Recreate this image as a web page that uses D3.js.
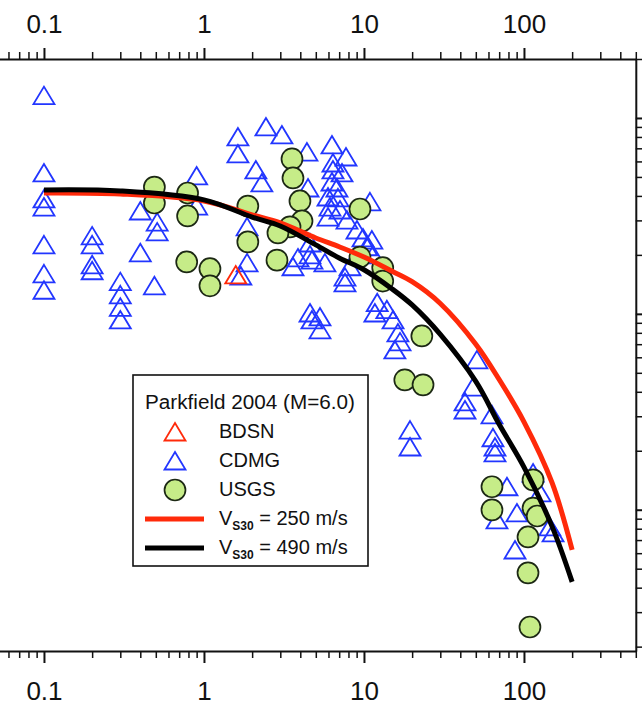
<!DOCTYPE html>
<html>
<head>
<meta charset="utf-8">
<script src="https://cdn.jsdelivr.net/npm/d3@7"></script>
<style>
body { margin: 0; background: #fff; }
text { font-family: "Liberation Sans", Arial, Helvetica, sans-serif; }
</style>
</head>
<body>
<svg id="chart" width="642" height="708"></svg>
<script>
// values: distance (km) and amplitude (left labels are cropped)
var cdmgDist = [0.1, 0.1, 0.1, 0.1, 0.1, 0.1, 0.1, 0.2, 0.2, 0.2, 0.2, 0.3, 0.3, 0.3, 0.3, 0.4, 0.4,
    0.51, 0.51, 0.49, 0.9, 0.9, 1.63, 1.63, 1.70, 1.86, 1.86,
    2.11, 2.30, 2.44, 3.07, 4.40, 4.47, 3.87, 4.60, 4.60, 4.73, 3.60, 5.70, 7.61, 7.61, 8.18, 4.60, 4.73, 5.31, 5.31,
    6.31, 6.40, 6.40, 7.29, 6.31, 6.78, 5.96, 6.88, 6.13, 7.08, 5.96, 7.83, 9.04, 10.9, 9.86, 11.2, 10.4, 11.4,
    12.1, 11.7, 13.9, 15.2, 16.3, 16.8, 15.6, 19.4, 19.4,
    50.8, 48.0, 42.8, 42.8, 63.1, 64.0, 65.9, 65.9, 78.3, 90.4, 67.8, 114, 126, 145, 152, 87.9, 7.72];
var cdmgAmp = [1.30, 0.524, 0.386, 0.351, 0.225, 0.160, 0.132, 0.250, 0.225, 0.178, 0.166, 0.146, 0.125, 0.108, 0.0931, 0.335, 0.205,
    0.294, 0.262, 0.139, 0.506, 0.355, 0.800, 0.655, 0.156, 0.278, 0.182,
    0.543, 0.466, 0.900, 0.819, 0.670, 0.439, 0.193, 0.230, 0.200, 0.188, 0.174, 0.182, 0.154, 0.144, 0.174, 0.101, 0.0931, 0.0964, 0.0828,
    0.728, 0.589, 0.543, 0.524, 0.471, 0.439, 0.395, 0.391, 0.351, 0.339, 0.312, 0.301, 0.268, 0.373, 0.244, 0.238, 0.220, 0.200,
    0.114, 0.101, 0.105, 0.0931, 0.0799, 0.0719, 0.0654, 0.0255, 0.0209,
    0.0582, 0.0423, 0.0355, 0.0323, 0.0305, 0.0233, 0.0209, 0.0195, 0.0131, 0.00963, 0.00887, 0.0154, 0.0122, 0.00817, 0.00761, 0.00623, 0.632];

var usgsDist = [0.49, 0.49, 0.79, 0.79, 0.78, 1.09, 1.09, 1.88, 1.88, 3.55, 3.60, 3.98, 4.10, 3.45, 2.90, 2.86,
    9.44, 9.44, 13.1, 13.1, 23.0, 18.0, 23.4, 63.1, 63.1, 114, 114, 121, 106, 106, 109];
var usgsAmp = [0.444, 0.368, 0.414, 0.316, 0.184, 0.170, 0.139, 0.355, 0.233, 0.618, 0.494, 0.377, 0.298, 0.278, 0.259, 0.188,
    0.343, 0.195, 0.172, 0.147, 0.0771, 0.0460, 0.0434, 0.0131, 0.00998, 0.0142, 0.0102, 0.00929, 0.00726, 0.00476, 0.00252];

var bdsnDist = [1.58];
var bdsnAmp = [0.158];

// prediction curves
var curveDist = [0.1, 0.3, 1, 2, 3, 5, 7, 10, 15, 20, 30, 50, 70, 100, 150, 200];
var vs250 = [0.414, 0.409, 0.377, 0.320, 0.291, 0.244, 0.220, 0.195, 0.165, 0.146, 0.113, 0.0700, 0.0462, 0.0281, 0.0137, 0.00623];
var vs490 = [0.429, 0.424, 0.382, 0.312, 0.281, 0.225, 0.193, 0.168, 0.134, 0.111, 0.0785, 0.0452, 0.0273, 0.0165, 0.00820, 0.00428];

var xLabels = [0.1, 1, 10, 100];
var legendTitle = "Parkfield 2004 (M=6.0)";
var legendNames = ["BDSN", "CDMG", "USGS"];
var legendVs = ["250", "490"];

var BLUE = "#2236ff", RED = "#ff2a0a", GREEN = "#c6ec88";

var svg = d3.select("#chart");

var x = d3.scaleLog().domain([0.05, 500]).range([-4.2, 635.8]);
var y = d3.scaleLog().domain([0.0019, 2]).range([651, 59]);

const zip = (a, b) => a.map((d, i) => [d, b[i]]);
const isDecade = d => Math.abs(Math.log10(d) - Math.round(Math.log10(d))) < 1e-6;

// triangle outline, centred on the point
var triPath = "M0,-9L10.5,8.5L-10.5,8.5Z";

// CDMG triangles
svg.append("g").selectAll("path")
    .data(zip(cdmgDist, cdmgAmp))
    .join("path")
    .attr("d", triPath)
    .attr("transform", d => `translate(${x(d[0])},${y(d[1])})`)
    .attr("fill", "none")
    .attr("stroke", BLUE)
    .attr("stroke-width", 1.8);

// BDSN
svg.append("g").selectAll("path")
    .data(zip(bdsnDist, bdsnAmp))
    .join("path")
    .attr("d", triPath)
    .attr("transform", d => `translate(${x(d[0])},${y(d[1])})`)
    .attr("fill", "none")
    .attr("stroke", RED)
    .attr("stroke-width", 1.8);

// USGS circles
svg.append("g").selectAll("circle")
    .data(zip(usgsDist, usgsAmp))
    .join("circle")
    .attr("cx", d => x(d[0]))
    .attr("cy", d => y(d[1]))
    .attr("r", 10.5)
    .attr("fill", GREEN)
    .attr("stroke", "#1c2814")
    .attr("stroke-width", 1.7);

// curves
var line = d3.line().x(d => x(d[0])).y(d => y(d[1])).curve(d3.curveCatmullRom.alpha(0.5));
svg.append("path").datum(zip(curveDist, vs250))
    .attr("d", line).attr("fill", "none").attr("stroke", RED).attr("stroke-width", 5);
svg.append("path").datum(zip(curveDist, vs490))
    .attr("d", line).attr("fill", "none").attr("stroke", "#000").attr("stroke-width", 5);

// axes
function styleTicks(g, major, minor, horiz) {
    g.select(".domain").attr("stroke", "#111").attr("stroke-width", 2);
    g.selectAll(".tick line")
        .attr("stroke", "#111")
        .attr("stroke-width", d => isDecade(d) ? 2 : 1.5)
        .each(function (d) {
            var len = isDecade(d) ? major : minor;
            d3.select(this).attr(horiz ? "y2" : "x2", len);
        });
    g.selectAll(".tick text")
        .attr("font-size", 26)
        .attr("fill", "#111")
        .attr("font-family", '"Liberation Sans", Arial, sans-serif');
}

var xTicks = x.ticks();
var fmt = d => xLabels.some(v => Math.abs(v - d) < 1e-9) ? String(d) : "";

var gTop = svg.append("g")
    .attr("transform", `translate(0,${y.range()[1]})`)
    .call(d3.axisTop(x).tickValues(xTicks).tickSizeOuter(0).tickFormat(fmt));
styleTicks(gTop, -11, -7, true);
gTop.selectAll(".tick text").attr("y", -26).attr("dy", 0);

var gBot = svg.append("g")
    .attr("transform", `translate(0,${y.range()[0]})`)
    .call(d3.axisBottom(x).tickValues(xTicks).tickSizeOuter(0).tickFormat(fmt));
styleTicks(gBot, 12, 7, true);
gBot.selectAll(".tick text").attr("y", 49).attr("dy", 0);

var gRight = svg.append("g")
    .attr("transform", `translate(${x.range()[1]},0)`)
    .call(d3.axisRight(y).tickValues(y.ticks()).tickSizeOuter(0).tickFormat(""));
styleTicks(gRight, 12, 8, false);

// legend
var lg = svg.append("g");
lg.append("rect")
    .attr("x", 133).attr("y", 375).attr("width", 235).attr("height", 191)
    .attr("fill", "#fff").attr("stroke", "#111").attr("stroke-width", 1.6);

lg.append("text")
    .attr("x", 145).attr("y", 409)
    .attr("font-size", 19.5)
    .attr("textLength", 210).attr("lengthAdjust", "spacingAndGlyphs")
    .attr("fill", "#111")
    .text(legendTitle);

var rowY = i => 438 + i * 29;
var symY = i => rowY(i) - 6;

legendNames.forEach((name, i) => {
    lg.append("text").attr("x", 219).attr("y", rowY(i))
        .attr("font-size", 20).attr("fill", "#111").text(name);
});

lg.append("path").attr("d", triPath)
    .attr("transform", `translate(175,${symY(0)})`)
    .attr("fill", "none").attr("stroke", RED).attr("stroke-width", 1.8);
lg.append("path").attr("d", triPath)
    .attr("transform", `translate(175,${symY(1)})`)
    .attr("fill", "none").attr("stroke", BLUE).attr("stroke-width", 1.8);
lg.append("circle").attr("cx", 175).attr("cy", symY(2)).attr("r", 10.5)
    .attr("fill", GREEN).attr("stroke", "#1c2814").attr("stroke-width", 1.7);

[RED, "#000"].forEach((col, j) => {
    var i = j + 3;
    lg.append("line")
        .attr("x1", 145).attr("x2", 204)
        .attr("y1", symY(i)).attr("y2", symY(i))
        .attr("stroke", col).attr("stroke-width", 5);
    var t = lg.append("text").attr("x", 219).attr("y", rowY(i))
        .attr("font-size", 20).attr("fill", "#111");
    t.append("tspan").text("V");
    t.append("tspan").attr("font-size", 12).attr("font-weight", "bold").attr("dy", 5).text("S30");
    t.append("tspan").attr("dy", -5).text(" = " + legendVs[j] + " m/s");
});
</script>
</body>
</html>
